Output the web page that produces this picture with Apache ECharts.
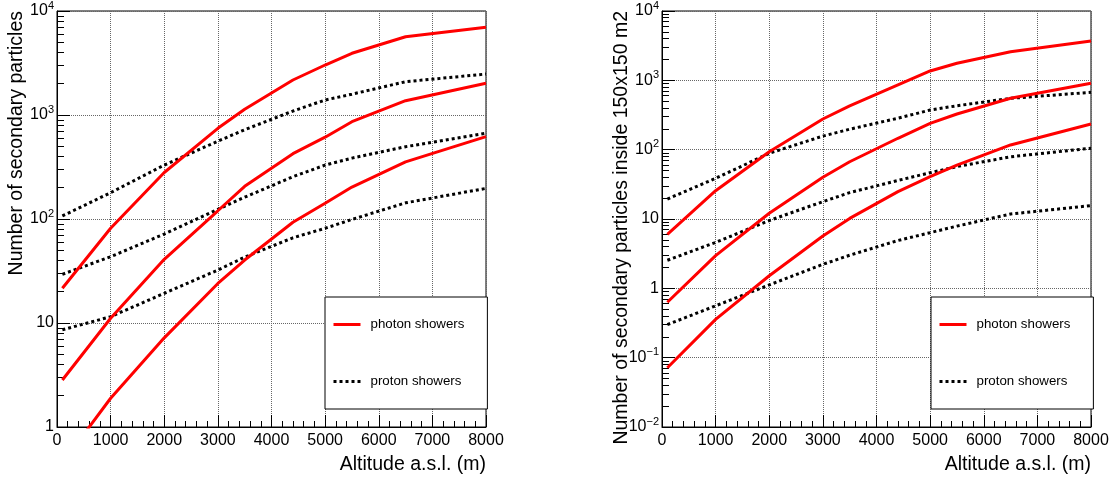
<!DOCTYPE html>
<html><head><meta charset="utf-8">
<script src="https://cdn.jsdelivr.net/npm/echarts@6/dist/echarts.min.js"></script>
<style>html,body{margin:0;padding:0;background:#fff}#c{width:1115px;height:481px}</style>
</head><body><div id="c"></div>
<script>
// ---- data ----
const altitudes = [100, 1000, 2000, 3000, 3500, 4400, 5000, 5500, 6500, 8000];

// left panel: number of secondary particles
const leftPhoton1 = [21.6, 81.5, 280, 745, 1135, 2170, 3025, 3920, 5660, 6970];
const leftPhoton2 = [2.83, 11.1, 41, 120, 206, 425, 612, 862, 1373, 2016];
const leftPhoton3 = [0.45, 1.89, 7.2, 24, 40.3, 93, 141.6, 203, 354, 619];
const leftProton1 = [107, 179, 330, 560, 722, 1092, 1393, 1585, 2090, 2478];
const leftProton2 = [29.4, 43.4, 71.7, 124, 162, 255, 330, 385, 496, 667];
const leftProton3 = [8.6, 11.5, 19.3, 32.3, 43, 66, 81.4, 99, 143, 197];

// right panel: inside 150x150 m2
const rightPhoton1 = [6.0, 25.6, 93.5, 277, 427, 857, 1364, 1762, 2588, 3700];
const rightPhoton2 = [0.63, 2.96, 12.1, 40, 67, 146, 240, 327, 551, 906];
const rightPhoton3 = [0.0716, 0.357, 1.52, 5.69, 10.2, 24.8, 40.7, 60, 117, 234];
const rightProton1 = [19.4, 38.6, 88.7, 157, 197, 284, 373, 430, 550, 672];
const rightProton2 = [2.54, 4.6, 9.5, 17.8, 24, 36, 46.5, 57, 79, 105];
const rightProton3 = [0.30, 0.56, 1.12, 2.22, 3.0, 4.9, 6.35, 7.9, 11.8, 15.6];

const photonName = 'photon showers';
const protonName = 'proton showers';
const xTitle = 'Altitude a.s.l. (m)';
const leftYTitle = 'Number of secondary particles';
const rightYTitle = 'Number of secondary particles inside 150x150 m2';
const xTicks = {min: 0, max: 8000, interval: 1000};
const leftDecades = [0, 4];
const rightDecades = [-2, 4];
const minorMultipliers = [2, 3, 4, 5, 6, 7, 8, 9];

// ---- chart ----
const FONT = "'Liberation Sans', Arial, Helvetica, sans-serif";
const chart = echarts.init(document.getElementById('c'), null, {renderer: 'canvas'});

function pairs(ys) { return altitudes.map((x, i) => [x, ys[i]]); }

function decadeLabel(v) {
  const e = Math.round(Math.log10(v));
  if (e === 0) return '1';
  if (e === 1) return '10';
  return '10{sup|' + (e < 0 ? '\u2212' + (-e) : String(e)) + '}';
}
function minorTickValues(d) {
  const out = [];
  for (let k = d[0]; k < d[1]; k++) for (const m of minorMultipliers) out.push(k + Math.log10(m));
  return out;
}

const gridLine = {show: true, lineStyle: {color: '#666', type: [1, 1], width: 1}};

function makeX(gi) {
  return {
    type: 'value', gridIndex: gi, min: xTicks.min, max: xTicks.max, interval: xTicks.interval,
    name: xTitle, nameLocation: 'end', nameGap: 0, nameMoveOverlap: false,
    nameTextStyle: {fontSize: 19.5, color: '#000', fontFamily: FONT, align: 'right', verticalAlign: 'top', padding: [28, 0, 0, 0]},
    axisLine: {show: true, onZero: false, lineStyle: {color: '#000', width: 1}},
    axisTick: {show: true, inside: true, length: 12, lineStyle: {color: '#000'}},
    minorTick: {show: true, splitNumber: 5, length: 6, lineStyle: {color: '#000'}},
    splitLine: gridLine,
    axisLabel: {fontSize: 16, color: '#000', fontFamily: FONT, margin: 6, hideOverlap: false,
      formatter: v => String(v)}
  };
}
function makeY(gi, d, title) {
  return {
    type: 'log', logBase: 10, gridIndex: gi, min: Math.pow(10, d[0]), max: Math.pow(10, d[1]),
    position: 'left',
    name: title, nameLocation: 'end', nameGap: 0, nameRotate: 90, nameMoveOverlap: false,
    nameTextStyle: {fontSize: 19.5, color: '#000', fontFamily: FONT, align: 'right', verticalAlign: 'bottom', padding: [0, 0, 30, 0]},
    axisLine: {show: true, onZero: false, lineStyle: {color: '#000', width: 1}},
    axisTick: {show: true, inside: true, length: 13, lineStyle: {color: '#000'}},
    splitLine: gridLine,
    axisLabel: {
      fontSize: 16, color: '#000', fontFamily: FONT, margin: 3, lineHeight: 22,
      formatter: decadeLabel,
      rich: {sup: {fontSize: 11, lineHeight: 13, verticalAlign: 'top', color: '#000', fontFamily: FONT}}
    }
  };
}
function makeMinorY(gi, d) {
  return {
    type: 'value', gridIndex: gi, min: d[0], max: d[1], position: 'left',
    axisLine: {show: false, onZero: false},
    axisTick: {show: true, inside: true, length: 7, customValues: minorTickValues(d), lineStyle: {color: '#000', width: 1}},
    axisLabel: {show: false},
    splitLine: {show: false}
  };
}

function photon(name, xi, yi, ys) {
  return {name, type: 'line', xAxisIndex: xi, yAxisIndex: yi, data: pairs(ys), symbol: 'none',
    clip: true, z: 3, lineStyle: {color: '#ff0000', width: 3}, itemStyle: {color: '#ff0000'}};
}
function proton(name, xi, yi, ys) {
  return {name, type: 'line', xAxisIndex: xi, yAxisIndex: yi, data: pairs(ys), symbol: 'none',
    clip: true, z: 2, lineStyle: {color: '#000', width: 3, type: [3, 3], cap: 'butt'}, itemStyle: {color: '#000'}};
}

function makeLegend(left) {
  return {
    orient: 'vertical', left: left, top: 297, data: [photonName, protonName],
    itemWidth: 27, itemHeight: 14, itemGap: 44, padding: [21, 23, 21, 7],
    backgroundColor: '#fff', borderColor: '#000', borderWidth: 1, selectedMode: false,
    lineStyle: {width: 3},
    itemStyle: {opacity: 0, borderWidth: 0},
    textStyle: {fontSize: 13.3, color: '#000', fontFamily: FONT, padding: [0, 0, 0, 5]}
  };
}

const gridBase = {top: 11, width: 429, height: 416, show: true, borderColor: '#000', borderWidth: 1,
  backgroundColor: 'transparent', containLabel: false, outerBoundsMode: 'none'};

chart.setOption({
  animation: false,
  backgroundColor: '#fff',
  textStyle: {fontFamily: FONT},
  grid: [
    Object.assign({left: 57}, gridBase),
    Object.assign({left: 662}, gridBase)
  ],
  xAxis: [makeX(0), makeX(1)],
  yAxis: [makeY(0, leftDecades, leftYTitle), makeY(1, rightDecades, rightYTitle), makeMinorY(0, leftDecades), makeMinorY(1, rightDecades)],
  legend: [makeLegend(325), makeLegend(931)],
  series: [
    proton(protonName, 0, 0, leftProton1),
    proton(protonName, 0, 0, leftProton2),
    proton(protonName, 0, 0, leftProton3),
    photon(photonName, 0, 0, leftPhoton1),
    photon(photonName, 0, 0, leftPhoton2),
    photon(photonName, 0, 0, leftPhoton3),
    proton(protonName, 1, 1, rightProton1),
    proton(protonName, 1, 1, rightProton2),
    proton(protonName, 1, 1, rightProton3),
    photon(photonName, 1, 1, rightPhoton1),
    photon(photonName, 1, 1, rightPhoton2),
    photon(photonName, 1, 1, rightPhoton3)
  ]
});
</script>
</body></html>
